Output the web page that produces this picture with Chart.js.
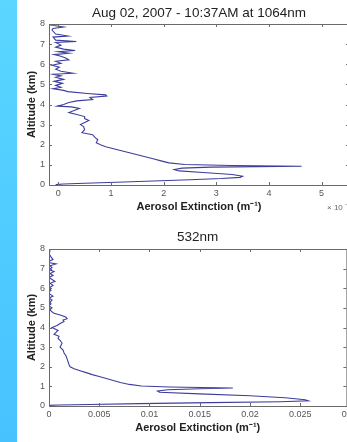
<!DOCTYPE html>
<html>
<head>
<meta charset="utf-8">
<script src="https://cdn.jsdelivr.net/npm/chart.js@4.4.0/dist/chart.umd.min.js"></script>
<style>
    html, body { margin: 0; padding: 0; width: 347px; height: 442px; overflow: hidden; background: #fff; }
    #strip { position: absolute; left: 0; top: 0; width: 17px; height: 442px;
             background: linear-gradient(to bottom, #5ad6ff, #48c2ff); }
    .box { position: absolute; left: 0; width: 362px; height: 221px; }
    #top { top: 0; }
    #bot { top: 221px; }
</style>
</head>
<body>
<div id="strip"></div>
<div class="box" id="top"><canvas id="c1" width="362" height="221"></canvas></div>
<div class="box" id="bot"><canvas id="c2" width="362" height="221"></canvas></div>
<script>
// 1064nm profile: altitude (km) and extinction (x 10^-4 m^-1)
var alt1064 = [8.0, 7.95, 7.85, 7.78, 7.7, 7.5, 7.4, 7.35, 7.2, 7.13, 7.08, 6.95, 6.85, 6.75, 6.68, 6.62,
    6.55, 6.48, 6.4, 6.3, 6.22, 6.15, 6.05, 5.95, 5.85, 5.75, 5.65, 5.55, 5.5, 5.42, 5.35, 5.25,
    5.15, 5.05, 4.95, 4.85, 4.78, 4.7, 4.64, 4.55, 4.48, 4.42, 4.35, 4.25, 4.18, 4.1, 4.0, 3.92,
    3.88, 3.8, 3.7, 3.6, 3.5, 3.4, 3.3, 3.2, 3.1, 3.0, 2.9, 2.75, 2.6, 2.5, 2.35, 2.25, 2.1, 2.0,
    1.9, 1.8, 1.7, 1.6, 1.5, 1.4, 1.3, 1.2, 1.1, 1.02, 0.97, 0.93, 0.89, 0.84, 0.77, 0.7, 0.62,
    0.52, 0.44, 0.38, 0.32, 0.26, 0.2, 0.14, 0.09, 0.05, 0.02];
var ext1064 = [0.0, -0.15, 0.1, -0.1, -0.12, -0.05, 0.18, -0.1, -0.05, 0.34, -0.05, 0.05, -0.05, 0.1, 0.32, 0.0,
    0.2, -0.08, 0.05, 0.15, 0.2, -0.05, 0.05, -0.12, 0.02, -0.05, 0.05, 0.28, -0.1, 0.05, -0.05, 0.1,
    -0.08, 0.08, -0.05, 0.05, -0.1, 0.1, 0.18, 0.55, 0.9, 0.92, 0.6, 0.65, 0.35, 0.2, 0.1, -0.02,
    0.25, 0.4, 0.3, 0.2, 0.35, 0.5, 0.5, 0.58, 0.5, 0.42, 0.48, 0.5, 0.45, 0.65, 0.7, 0.75, 0.72, 0.8,
    0.9, 1.05, 1.2, 1.35, 1.5, 1.65, 1.8, 1.95, 2.1, 2.4, 3.3, 4.62, 2.9, 2.35, 2.2, 2.3, 2.75,
    3.3, 3.5, 3.45, 3.1, 2.5, 1.8, 1.1, 0.5, 0.1, -0.05];

// 532nm profile: altitude (km) and extinction (m^-1)
var alt532 = [8.0, 7.9, 7.75, 7.6, 7.46, 7.38, 7.3, 7.24, 7.15, 7.05, 6.95, 6.85, 6.75, 6.65, 6.55, 6.45,
    6.35, 6.25, 6.15, 6.0, 5.9, 5.8, 5.7, 5.6, 5.5, 5.4, 5.3, 5.2, 5.1, 5.0, 4.9, 4.8, 4.72, 4.62,
    4.52, 4.45, 4.38, 4.3, 4.2, 4.1, 4.0, 3.95, 3.85, 3.75, 3.65, 3.55, 3.45, 3.35, 3.2, 3.1, 3.0,
    2.85, 2.7, 2.55, 2.4, 2.25, 2.1, 2.0, 1.9, 1.8, 1.7, 1.6, 1.5, 1.4, 1.3, 1.2, 1.1, 1.02, 0.97,
    0.92, 0.88, 0.83, 0.76, 0.7, 0.62, 0.52, 0.42, 0.32, 0.27, 0.22, 0.17, 0.12, 0.08, 0.05, 0.03];
var ext532 = [0.0, 0.0001, 0.0, 0.0002, 0.0004, 0.0, 0.0001, 0.0007, 0.0001, 0.0003, 0.0, 0.0005, 0.0001, 0.0004, 0.0, 0.0003,
    0.0006, 0.0001, 0.0004, 0.0, 0.0002, 0.0, 0.0001, 0.0004, 0.0, 0.0003, 0.0001, 0.0002, 0.0, 0.0003, 0.0001, 0.0003, 0.0005, 0.0012,
    0.0017, 0.0018, 0.0014, 0.0015, 0.0011, 0.0008, 0.0003, 0.0005, 0.0009, 0.0007, 0.0005, 0.001, 0.0009, 0.0011, 0.0013, 0.0012, 0.0011,
    0.0014, 0.0015, 0.0017, 0.0018, 0.0019, 0.002, 0.0021, 0.0025, 0.0031, 0.0037, 0.0043, 0.005, 0.0057, 0.0064, 0.0071, 0.008, 0.0092, 0.012,
    0.0183, 0.015, 0.0118, 0.0108, 0.011, 0.015, 0.02, 0.0235, 0.0255, 0.0258, 0.023, 0.016, 0.009, 0.004, 0.001, 0.0];

var altTicks = [0, 1, 2, 3, 4, 5, 6, 7, 8];
var ticks1064 = [0, 1, 2, 3, 4, 5];
var ticks532 = [0, 0.005, 0.01, 0.015, 0.02, 0.025, 0.03];

var fontFam = "'Liberation Sans', Arial, sans-serif";
var lineColor = '#3d3d9e';
var axisColor = '#6a6a6a';

// matlab-like box with inward ticks on all four sides
var boxPlugin = {
    id: 'box',
    afterDatasetsDraw: function (chart, args, opts) {
        var ctx = chart.ctx, a = chart.chartArea;
        var xs = chart.scales.x, ys = chart.scales.y;
        ctx.save();
        ctx.strokeStyle = axisColor;
        ctx.lineWidth = 1;
        ctx.strokeRect(a.left + 0.5, a.top + 0.5, a.right - a.left, a.bottom - a.top);
        ctx.beginPath();
        xs.ticks.forEach(function (t) {
            if (t.value > xs.max) return;
            var px = Math.round(xs.getPixelForValue(t.value)) + 0.5;
            ctx.moveTo(px, a.bottom); ctx.lineTo(px, a.bottom - 3);
            ctx.moveTo(px, a.top); ctx.lineTo(px, a.top + 3);
        });
        ys.ticks.forEach(function (t) {
            var py = Math.round(ys.getPixelForValue(t.value)) + 0.5;
            ctx.moveTo(a.left, py); ctx.lineTo(a.left + 3, py);
            ctx.moveTo(a.right, py); ctx.lineTo(a.right - 3, py);
        });
        ctx.stroke();
        if (opts.note) {
            ctx.fillStyle = '#666';
            ctx.font = '8px ' + fontFam;
            ctx.textBaseline = 'middle';
            ctx.fillText('\u00d7 10', a.right - 22, a.bottom + 23);
            ctx.font = '6px ' + fontFam;
            ctx.fillText('-4', a.right - 4, a.bottom + 19);
        }
        ctx.restore();
    }
};

function makeChart(id, alts, exts, xMin, xMax, xTicks, title, titlePad, note, fmt) {
    var pts = alts.map(function (h, i) { return {x: exts[i], y: h}; });
    return new Chart(document.getElementById(id).getContext('2d'), {
        type: 'scatter',
        data: {
            datasets: [{
                data: pts,
                showLine: true,
                borderColor: lineColor,
                borderWidth: 1.1,
                pointRadius: 0,
                tension: 0
            }]
        },
        options: {
            responsive: false,
            animation: false,
            layout: { padding: { left: 0, top: 0, bottom: 0, right: 13 } },
            plugins: {
                legend: { display: false },
                tooltip: { enabled: false },
                title: {
                    display: true,
                    fullSize: false,
                    text: title,
                    color: '#222',
                    font: { family: fontFam, size: 13.5, weight: 'normal' },
                    padding: titlePad
                },
                box: { note: note }
            },
            scales: {
                x: {
                    type: 'linear',
                    min: xMin,
                    max: xMax,
                    afterBuildTicks: function (s) {
                        s.ticks = xTicks.map(function (v) { return {value: v}; });
                    },
                    afterFit: function (s) { s.height = 36; },
                    grid: { display: false, drawTicks: false },
                    border: { display: false },
                    ticks: {
                        color: '#555',
                        padding: 3,
                        maxRotation: 0,
                        autoSkip: false,
                        font: { family: fontFam, size: 9 },
                        callback: fmt
                    },
                    title: {
                        display: true,
                        text: 'Aerosol Extinction (m\u207b\u00b9)',
                        color: '#222',
                        font: { family: fontFam, size: 11, weight: 'bold' },
                        padding: { top: 0, bottom: 7 }
                    }
                },
                y: {
                    type: 'linear',
                    min: 0,
                    max: 8,
                    afterBuildTicks: function (s) {
                        s.ticks = altTicks.map(function (v) { return {value: v}; });
                    },
                    afterFit: function (s) { s.width = 49; },
                    grid: { display: false, drawTicks: false },
                    border: { display: false },
                    ticks: {
                        color: '#555',
                        padding: 4,
                        autoSkip: false,
                        font: { family: fontFam, size: 9 }
                    },
                    title: {
                        display: true,
                        text: 'Altitude (km)',
                        color: '#222',
                        font: { family: fontFam, size: 11, weight: 'bold' },
                        padding: { top: 25, bottom: 0 }
                    }
                }
            }
        },
        plugins: [boxPlugin]
    });
}

makeChart('c1', alt1064, ext1064, -0.177, 5.52, ticks1064,
    'Aug 02, 2007 - 10:37AM at 1064nm', { top: 5.5, bottom: 2.3 }, true,
    function (v) { return String(v); });
makeChart('c2', alt532, ext532, 0, 0.0296, ticks532,
    '532nm', { top: 8.5, bottom: 3.3 }, false,
    function (v) { return v === 0 ? '0' : String(Number(v.toFixed(3))); });
</script>
</body>
</html>
